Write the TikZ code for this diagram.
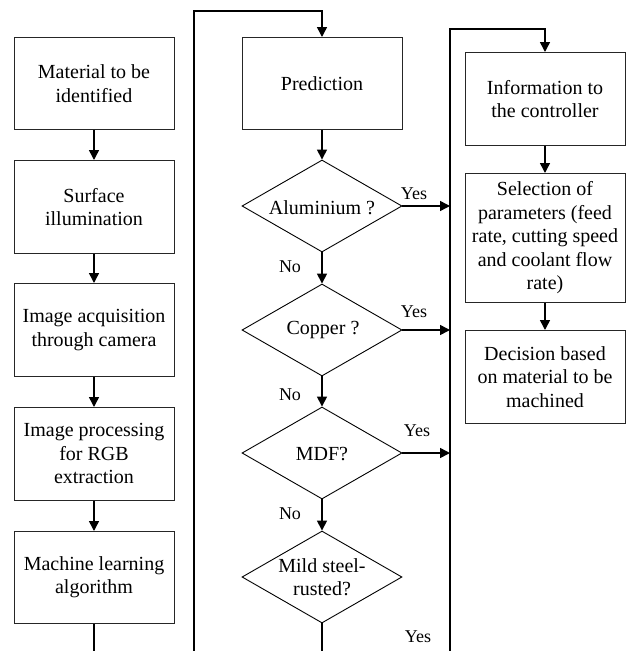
\documentclass[tikz,border=0pt]{standalone}
\usepackage{fontspec}
\setmainfont{Liberation Serif}
\usetikzlibrary{shapes.geometric,arrows.meta}
\begin{document}
\begin{tikzpicture}[x=1pt,y=-1pt,
  box/.style={draw=black!85, line width=0.9pt, minimum width=160pt, align=center,
    font=\fontsize{20}{23.5}\selectfont, inner sep=0pt, anchor=north},
  dia/.style={draw=black, line width=0.9pt, diamond, minimum width=160pt, minimum height=92pt, inner sep=0pt},
  dtext/.style={align=center, font=\fontsize{20}{23.5}\selectfont},
  lab/.style={font=\fontsize{18}{20}\selectfont},
  arr/.style={line width=1.5pt, -{Triangle[length=10pt,width=10pt]}},
  ln/.style={line width=1.5pt}]
\useasboundingbox (0,0) rectangle (626,651);
% left column
\node[box, minimum height=92pt] (b1) at (94,37) {Material to be\\identified};
\node[box, minimum height=93pt] (b2) at (94,160) {Surface\\illumination};
\node[box, minimum height=93pt] (b3) at (94,283) {Image acquisition\\through camera};
\node[box, minimum height=93pt] (b4) at (94,407) {Image processing\\for RGB\\extraction};
\node[box, minimum height=92pt] (b5) at (94,531) {Machine learning\\algorithm};
\coordinate (e1) at (94,651);
\draw[arr] (b1) -- (b2);
\draw[arr] (b2) -- (b3);
\draw[arr] (b3) -- (b4);
\draw[arr] (b4) -- (b5);
\draw[ln] (b5) -- (e1);
% middle column
\coordinate (lv) at (194,651);
\node[box, minimum height=92pt] (pr) at (322,37) {Prediction};
\draw[arr] (lv) |- ([yshift=26pt]pr.north) -- (pr.north);
\node[dia] (d1) at (322,206) {};
\node[dtext] at (322,208) {Aluminium ?};
\node[dia] (d2) at (322,330) {};
\node[dtext] at (323,330) {Copper ?};
\node[dia] (d3) at (322,453) {};
\node[dtext] at (322,454) {MDF?};
\node[dia] (d4) at (322,577) {};
\node[dtext] at (322,577) {Mild steel-\\rusted?};
\coordinate (e2) at (322,651);
\draw[arr] (pr) -- (d1);
\draw[arr] (d1) -- (d2);
\draw[arr] (d2) -- (d3);
\draw[arr] (d3) -- (d4);
\draw[ln] (d4) -- (e2);
\node[lab] (n1) at (290,267) {No};
\node[lab] (n2) at (290,395) {No};
\node[lab] (n3) at (290,514) {No};
\node[lab] (y4) at (418,637) {Yes};
% right column
\coordinate (rv) at (450,651);
\node[box, minimum height=93pt] (i1) at (545,52) {Information to\\the controller};
\node[box, minimum height=129pt] (i2) at (545,173) {Selection of\\parameters (feed\\rate, cutting speed\\and coolant flow\\rate)};
\node[box, minimum height=93pt] (i3) at (545,330) {Decision based\\on material to be\\machined};
\draw[arr] (rv) |- ([yshift=23pt]i1.north) -- (i1.north);
\draw[arr] (i1) -- (i2);
\draw[arr] (i2) -- (i3);
\draw[arr] (d1.east) -- (d1.east -| rv);
\draw[arr] (d2.east) -- (d2.east -| rv);
\draw[arr] (d3.east) -- (d3.east -| rv);
\node[lab] (y1) at (414,194) {Yes};
\node[lab] (y2) at (414,312) {Yes};
\node[lab] (y3) at (417,431) {Yes};
\end{tikzpicture}
\end{document}
